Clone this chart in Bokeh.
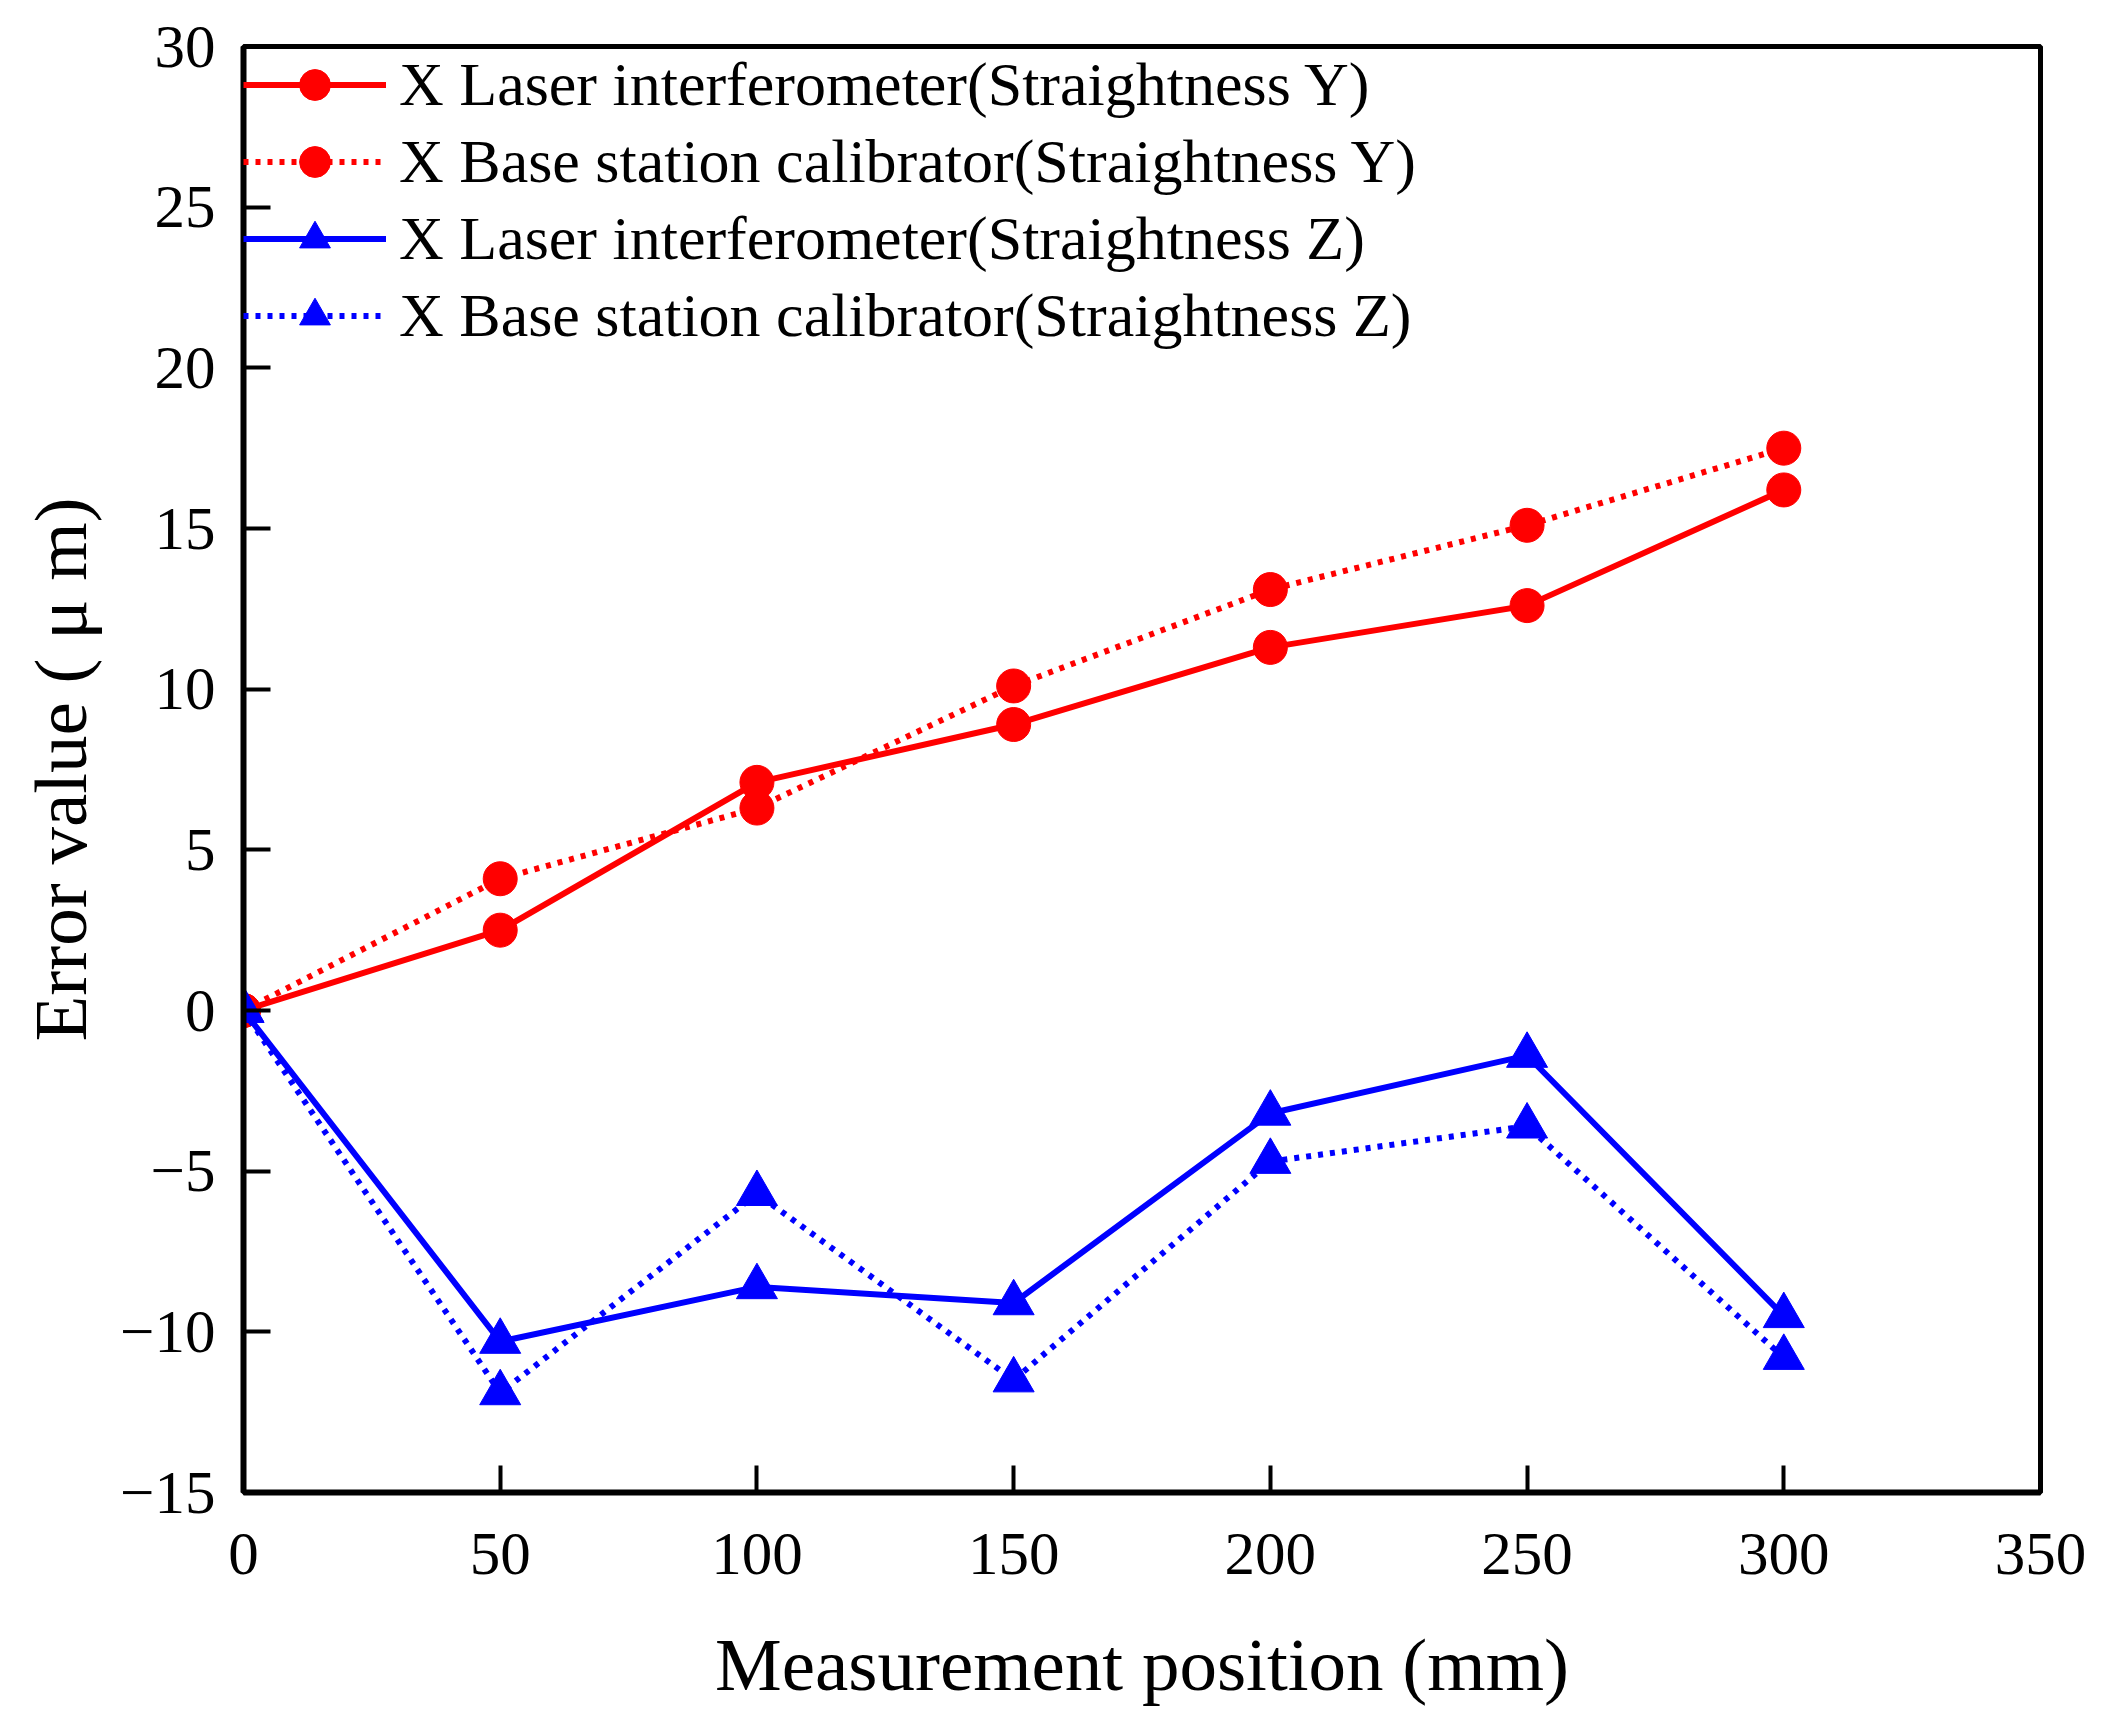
from bokeh.plotting import figure
from bokeh.models import Range1d, Legend, LegendItem, FixedTicker
from bokeh.embed import file_html
from bokeh.resources import INLINE

# ---- data ----
positions = [0, 50, 100, 150, 200, 250, 300]
laser_y = [0, 2.5, 7.1, 8.9, 11.3, 12.6, 16.2]
base_y = [0, 4.1, 6.3, 10.1, 13.1, 15.1, 17.5]
laser_z = [0, -10.3, -8.6, -9.1, -3.2, -1.4, -9.5]
base_z = [0, -11.9, -5.7, -11.5, -4.7, -3.6, -10.8]

x_ticks = [0, 50, 100, 150, 200, 250, 300, 350]
y_ticks = [-15, -10, -5, 0, 5, 10, 15, 20, 25, 30]
y_tick_labels = {-15: "\u221215", -10: "\u221210", -5: "\u22125"}

series_labels = [
    "X Laser interferometer(Straightness Y)",
    "X Base station calibrator(Straightness Y)",
    "X Laser interferometer(Straightness Z)",
    "X Base station calibrator(Straightness Z)",
]

FONT = "Liberation Serif"
RED = "#ff0000"
BLUE = "#0000ff"

p = figure(width=2093, height=1708, output_backend="svg", toolbar_location=None,
           x_range=Range1d(0, 350), y_range=Range1d(-15, 30),
           min_border_left=243, min_border_right=53, min_border_top=46,
           min_border_bottom=216)
p.background_fill_color = "white"
p.border_fill_color = "white"
p.grid.visible = False
p.outline_line_color = "black"
p.outline_line_width = 5

for ax in (p.xaxis[0], p.yaxis[0]):
    ax.axis_line_width = 6
    ax.axis_line_color = "black"
    ax.major_tick_in = 27
    ax.major_tick_out = 0
    ax.major_tick_line_width = 4
    ax.major_tick_line_color = "black"
    ax.minor_tick_line_color = None
    ax.major_label_text_font = FONT
    ax.major_label_text_font_size = "61px"
    ax.major_label_text_color = "black"
    ax.axis_label_text_font = FONT
    ax.axis_label_text_font_size = "75px"
    ax.axis_label_text_font_style = "normal"
    ax.axis_label_text_color = "black"

p.xaxis[0].ticker = FixedTicker(ticks=x_ticks)
p.yaxis[0].ticker = FixedTicker(ticks=y_ticks)
p.yaxis[0].major_label_overrides = y_tick_labels
p.xaxis[0].axis_label = "Measurement position (mm)"
p.yaxis[0].axis_label = "Error value ( \u03bc m)"
p.xaxis[0].major_label_standoff = 41
p.xaxis[0].axis_label_standoff = 46
p.yaxis[0].major_label_standoff = 28
p.yaxis[0].axis_label_standoff = 15

LW = 6
items = []
specs = [
    (laser_y, RED, "solid", "circle", 34),
    (base_y, RED, "5 7", "circle", 34),
    (laser_z, BLUE, "solid", "triangle", 41),
    (base_z, BLUE, "5 7", "triangle", 41),
]
for (vals, col, dash, mk, sz), lab in zip(specs, series_labels):
    ln = p.line(positions, vals, line_color=col, line_width=LW, line_dash=dash)
    sc = p.scatter(positions, vals, marker=mk, size=sz, fill_color=col, line_color=col)
    items.append(LegendItem(label=lab, renderers=[ln, sc]))

legend = Legend(items=items, location="top_left", margin=0, padding=0,
                spacing=0, glyph_width=143, glyph_height=77, label_height=77,
                label_standoff=13, border_line_color=None,
                background_fill_alpha=0, label_text_font=FONT,
                label_text_font_size="62px", label_text_color="black")
p.add_layout(legend, "center")

open("out.html", "w").write(file_html(p, INLINE))
